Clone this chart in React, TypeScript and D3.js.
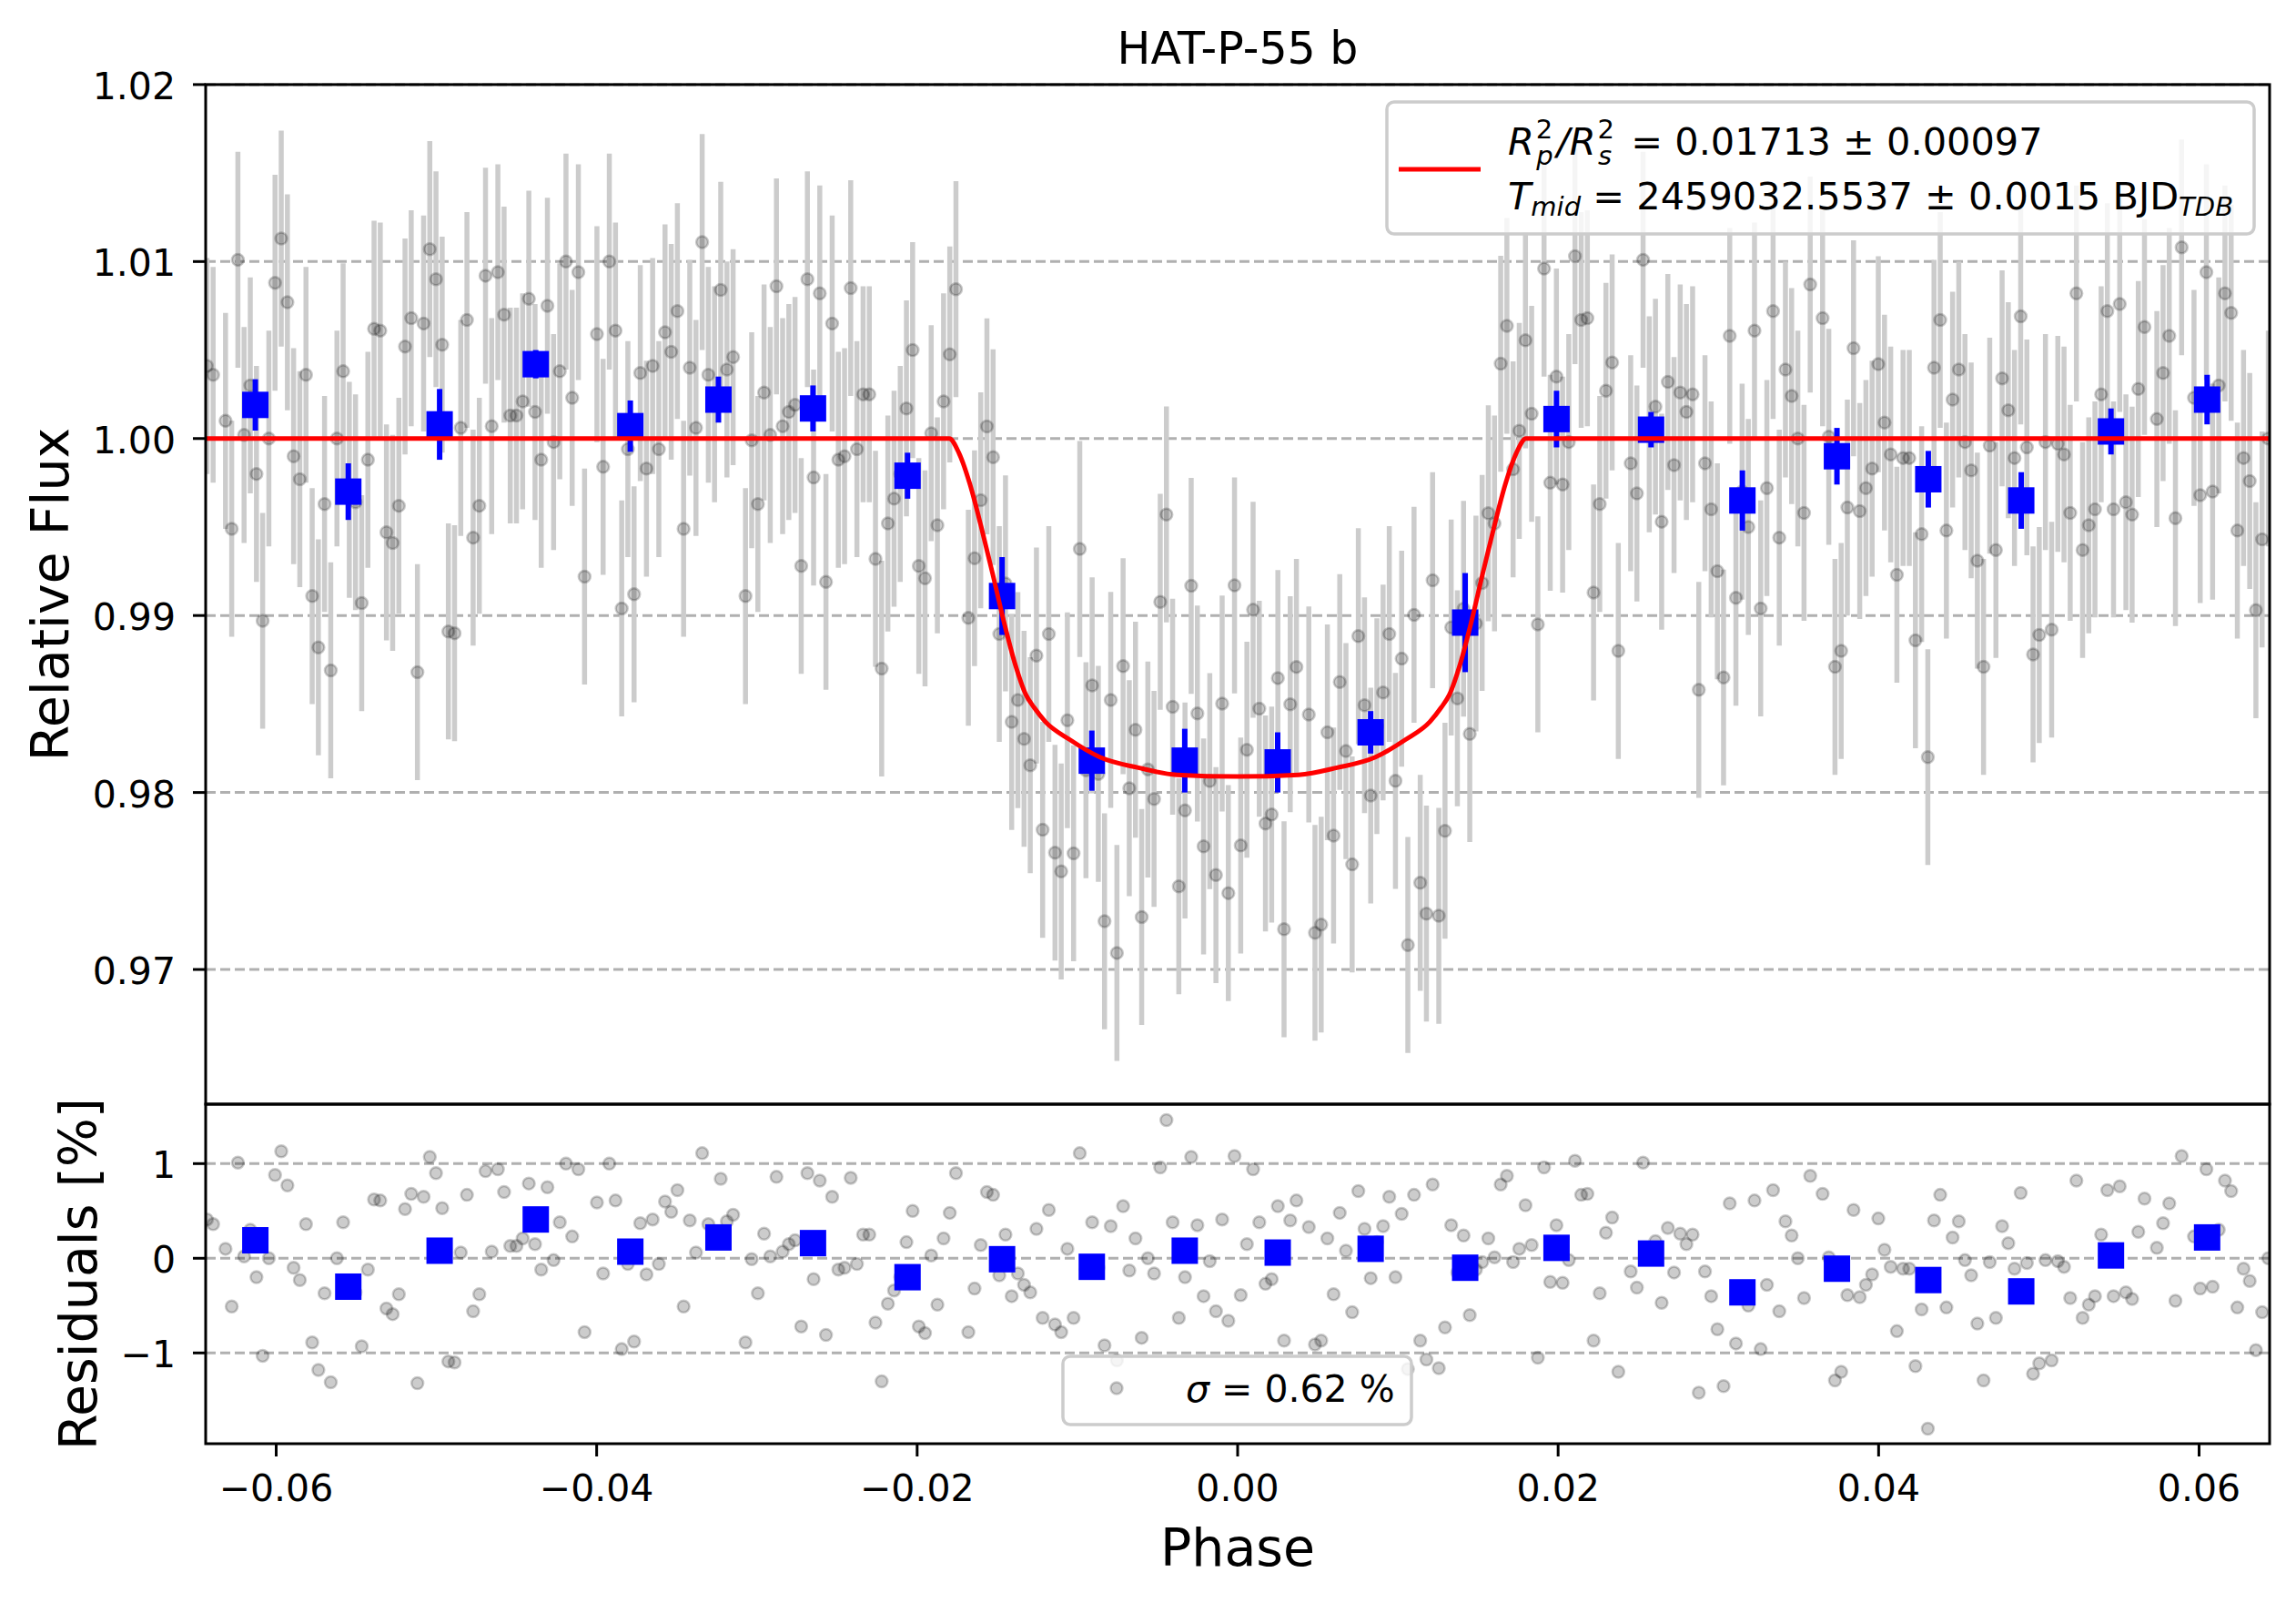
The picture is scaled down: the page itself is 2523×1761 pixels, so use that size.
import React from "react";
import * as d3 from "d3";

// ---- data ----
const title = "HAT-P-55 b";

// individual frames: phase = phaseStart + k * phaseStep, residual in %
const phaseStart = -0.06432;
const phaseStep = 0.0003863;
const residuals: (number | null)[] = [
  0.41, 0.36, null, 0.10, -0.51, 1.01, 0.02, 0.30, -0.20, -1.03,
  0.00, 0.88, 1.13, 0.77, -0.10, -0.23, 0.36, -0.89, -1.18, -0.37,
  -1.31, 0.00, 0.38, -0.29, -0.36, -0.93, -0.12, 0.62, 0.61, -0.53,
  -0.59, -0.38, 0.52, 0.68, -1.32, 0.65, 1.07, 0.90, 0.53, -1.09,
  -1.10, 0.06, 0.67, -0.56, -0.38, 0.92, 0.07, 0.94, 0.70, 0.13,
  0.13, 0.21, 0.79, 0.15, -0.12, 0.75, -0.02, 0.38, 1.00, 0.23,
  0.94, -0.78, null, 0.59, -0.16, 1.00, 0.61, -0.96, -0.06, -0.88,
  0.37, -0.17, 0.41, -0.06, 0.60, 0.49, 0.72, -0.51, 0.40, 0.06,
  1.11, 0.36, 0.25, 0.84, 0.39, 0.46, null, -0.89, -0.01, -0.37,
  0.26, 0.02, 0.86, 0.07, 0.15, 0.19, -0.72, 0.90, -0.22, 0.82,
  -0.81, 0.65, -0.12, -0.10, 0.85, -0.06, 0.25, 0.25, -0.68, -1.30,
  -0.48, -0.34, -0.20, 0.17, 0.50, -0.72, -0.79, 0.03, -0.49, 0.21,
  0.48, 0.90, null, -0.78, -0.32, 0.14, 0.70, 0.67, -0.18, 0.25,
  -0.40, -0.16, -0.28, -0.36, 0.31, -0.63, 0.51, -0.70, -0.78, 0.10,
  -0.63, 1.11, -0.12, 0.38, -0.10, -0.92, 0.34, -1.08, 0.55, -0.13,
  0.21, -0.84, 0.00, -0.16, 0.96, 1.46, 0.38, -0.63, -0.20, 1.07,
  0.35, -0.40, -0.03, -0.56, 0.41, -0.66, 1.08, -0.39, 0.15, 0.94,
  0.38, -0.27, -0.22, 0.55, -0.87, 0.40, 0.61, null, 0.33, -0.91,
  -0.87, 0.21, -0.38, 0.48, 0.08, -0.57, 0.71, 0.31, -0.21, 0.17,
  0.34, 0.65, -0.20, 0.47, -1.17, 0.67, -0.87, -1.07, 0.78, -1.16,
  -0.73, 0.35, -0.15, 0.24, -0.60, -0.12, -0.04, 0.21, 0.01, 0.78,
  0.87, -0.04, 0.10, 0.56, 0.14, -1.05, 0.96, -0.25, 0.35, -0.26,
  -0.02, 1.03, 0.67, 0.68, -0.87, -0.37, 0.27, 0.43, -1.20, null,
  -0.14, -0.31, 1.01, 0.08, 0.18, -0.47, 0.32, -0.15, 0.26, 0.15,
  0.25, -1.42, -0.14, -0.40, -0.75, -1.35, 0.58, -0.90, -0.30, -0.50,
  0.61, -0.96, -0.28, 0.72, -0.56, 0.39, 0.24, 0.00, -0.42, 0.87,
  null, 0.68, 0.01, -1.29, -1.20, -0.39, 0.51, -0.41, -0.28, -0.17,
  0.42, 0.09, -0.09, -0.77, -0.11, -0.11, -1.14, -0.54, -1.80, 0.40,
  0.67, -0.52, 0.22, 0.39, -0.02, -0.18, -0.69, -1.29, -0.04, -0.63,
  0.34, 0.16, -0.11, 0.69, -0.05, -1.22, -1.11, -0.02, -1.08, -0.03,
  -0.09, -0.42, 0.82, -0.63, -0.49, -0.40, 0.25, 0.72, -0.40, 0.76,
  -0.36, -0.43, 0.28, 0.63, null, 0.11, 0.37, 0.58, -0.45, 1.08,
  null, 0.23, -0.32, 0.94, -0.30, 0.30, 0.82, 0.71, -0.52, -0.11,
  -0.24, -0.97, -0.57, 0.00,
];
const fluxErr = 0.0061;

// transit model (red curve), read at knots
const modelPhase = [
  -0.0644, -0.0180, -0.0174, -0.0167, -0.0160, -0.0153, -0.0146, -0.0139, -0.0132, -0.0127,
  -0.0120, -0.0105, -0.0086, -0.0062, -0.0038, 0.0, 0.0038, 0.0062, 0.0086, 0.0105,
  0.0120, 0.0127, 0.0132, 0.0139, 0.0146, 0.0153, 0.0160, 0.0167, 0.0174, 0.0180, 0.0644,
];
const modelFlux = [
  1.0, 1.0, 0.9992, 0.9974, 0.995, 0.9924, 0.9897, 0.9873, 0.9855, 0.9848,
  0.984, 0.983, 0.982, 0.9814, 0.981, 0.9809, 0.981, 0.9814, 0.982, 0.983,
  0.984, 0.9848, 0.9855, 0.9873, 0.9897, 0.9924, 0.995, 0.9974, 0.9992, 1.0, 1.0,
];

// binned points (blue squares)
const binPhase = [
  -0.0613, -0.0555, -0.0498, -0.0438, -0.0379, -0.0324, -0.0265, -0.0206, -0.0147, -0.0091, -0.0033,
  0.0025, 0.0083, 0.0142, 0.0199, 0.0258, 0.0315, 0.0374, 0.0431, 0.0489, 0.0545, 0.0605,
];
const binFlux = [
  1.0019, 0.997, 1.0008, 1.0042, 1.0007, 1.0022, 1.0017, 0.9979, 0.9911, 0.9818, 0.9818,
  0.9817, 0.9834, 0.9896, 1.0011, 1.0005, 0.9965, 0.999, 0.9977, 0.9965, 1.0004, 1.0022,
];
const binErr = [
  0.00145, 0.0016, 0.002, 0.0008, 0.00145, 0.0013, 0.0013, 0.0013, 0.0022, 0.0017, 0.0018,
  0.0017, 0.0012, 0.0028, 0.0016, 0.001, 0.0017, 0.0016, 0.0016, 0.0016, 0.0013, 0.0014,
];
const binResidual = [
  0.19, -0.3, 0.08, 0.41, 0.07, 0.22, 0.16, -0.2, -0.01, -0.09, 0.08,
  0.06, 0.1, -0.1, 0.11, 0.05, -0.36, -0.11, -0.23, -0.35, 0.03, 0.22,
];

const fluxTicks = [0.97, 0.98, 0.99, 1.0, 1.01, 1.02];
const residTicks = [-1, 0, 1];
const phaseTicks = [-0.06, -0.04, -0.02, 0.0, 0.02, 0.04, 0.06];
const sigmaValue = "0.62";

// ---- layout ----
const W = 2523;
const H = 1761;
const left = 226;
const right = 2494;
const mainTop = 92.9;
const split = 1213;
const bottom = 1586;
const font = "DejaVu Sans";
const fsTick = 41;
const fsLegend = 41.5;

const minus = (s: string) => s.replace("-", "\u2212");

export default function App() {
  const x = d3.scaleLinear().domain([-0.0644, 0.0644]).range([left, right]);
  const yMain = d3.scaleLinear().domain([0.96239, 1.02]).range([split, mainTop]);
  const yRes = d3.scaleLinear().domain([-1.959, 1.628]).range([bottom, split]);
  const model = d3.scaleLinear().domain(modelPhase).range(modelFlux);

  const points = residuals
    .map((r, k) => {
      if (r === null) return null;
      const phase = phaseStart + k * phaseStep;
      return { phase, res: r, flux: model(phase) + r / 100 };
    })
    .filter((p): p is { phase: number; res: number; flux: number } => p !== null);

  const modelLine = d3
    .line<number>()
    .x((_, i) => x(modelPhase[i]))
    .y((d) => yMain(d))
    .curve(d3.curveMonotoneX);

  const fmt2 = d3.format(".2f");
  const sq = 29;

  const dot = (cx: number, cy: number, key: string | number) => (
    <circle
      key={key}
      cx={cx}
      cy={cy}
      r={6.5}
      fill="black"
      fillOpacity={0.2}
      stroke="black"
      strokeOpacity={0.2}
      strokeWidth={2.5}
    />
  );

  return (
    <svg
      width={W}
      height={H}
      viewBox={`0 0 ${W} ${H}`}
      style={{ position: "absolute", left: 0, top: 0, background: "white" }}
      fontFamily={font}
    >
      <defs>
        <clipPath id="clipMain">
          <rect x={left} y={mainTop} width={right - left} height={split - mainTop} />
        </clipPath>
        <clipPath id="clipRes">
          <rect x={left} y={split} width={right - left} height={bottom - split} />
        </clipPath>
      </defs>
      <rect width={W} height={H} fill="white" />

      {/* title */}
      <text x={(left + right) / 2} y={70} fontSize={49} textAnchor="middle">
        {title}
      </text>

      {/* ---- main panel ---- */}
      <g>
        {fluxTicks.map((t) => (
          <line
            key={t}
            x1={left}
            x2={right}
            y1={yMain(t)}
            y2={yMain(t)}
            stroke="#b0b0b0"
            strokeWidth={3}
            strokeDasharray="11,5"
          />
        ))}
        <g clipPath="url(#clipMain)">
          {points.map((p, i) => (
            <line
              key={i}
              x1={x(p.phase)}
              x2={x(p.phase)}
              y1={yMain(p.flux - fluxErr)}
              y2={yMain(p.flux + fluxErr)}
              stroke="#cccccc"
              strokeWidth={5.5}
            />
          ))}
          {points.map((p, i) => dot(x(p.phase), yMain(p.flux), i))}
          {binPhase.map((ph, i) => (
            <g key={i}>
              <line
                x1={x(ph)}
                x2={x(ph)}
                y1={yMain(binFlux[i] - binErr[i])}
                y2={yMain(binFlux[i] + binErr[i])}
                stroke="blue"
                strokeWidth={6}
              />
              <rect x={x(ph) - sq / 2} y={yMain(binFlux[i]) - sq / 2} width={sq} height={sq} fill="blue" />
            </g>
          ))}
          <path d={modelLine(modelFlux) || ""} fill="none" stroke="red" strokeWidth={5} />
        </g>
        {fluxTicks.map((t) => (
          <g key={t}>
            <line x1={left - 14} x2={left} y1={yMain(t)} y2={yMain(t)} stroke="black" strokeWidth={3} />
            <text x={193} y={yMain(t) + 16} fontSize={fsTick} textAnchor="end">
              {fmt2(t)}
            </text>
          </g>
        ))}
        <rect x={left} y={mainTop} width={right - left} height={split - mainTop} fill="none" stroke="black" strokeWidth={3} />
        <text
          transform={`translate(75,${(mainTop + split) / 2}) rotate(-90)`}
          fontSize={57}
          textAnchor="middle"
        >
          Relative Flux
        </text>

        {/* legend */}
        <rect x={1524} y={112} width={953} height={145} rx={8} fill="white" fillOpacity={0.8} stroke="#cccccc" strokeWidth={3.5} />
        <line x1={1537} x2={1627} y1={186} y2={186} stroke="red" strokeWidth={5} />
        <text x={1657} y={170} fontSize={fsLegend} style={{ whiteSpace: "pre" }}>
          <tspan fontStyle="italic">R</tspan>
          <tspan fontSize={29} dx={2} dy={-18}>2</tspan>
          <tspan fontSize={29} fontStyle="italic" dx={-18} dy={29}>p</tspan>
          <tspan fontStyle="italic" dx={4} dy={-11}>/R</tspan>
          <tspan fontSize={29} dx={2} dy={-18}>2</tspan>
          <tspan fontSize={29} fontStyle="italic" dx={-18} dy={29}>s</tspan>
          <tspan dx={8} dy={-11}>{" = 0.01713 \u00b1 0.00097"}</tspan>
        </text>
        <text x={1657} y={230} fontSize={fsLegend} style={{ whiteSpace: "pre" }}>
          <tspan fontStyle="italic">T</tspan>
          <tspan fontSize={29} fontStyle="italic" dy={7}>mid</tspan>
          <tspan dy={-7}>{" = 2459032.5537 \u00b1 0.0015 BJD"}</tspan>
          <tspan fontSize={29} fontStyle="italic" dy={7}>TDB</tspan>
        </text>
      </g>

      {/* ---- residual panel ---- */}
      <g>
        {residTicks.map((t) => (
          <line
            key={t}
            x1={left}
            x2={right}
            y1={yRes(t)}
            y2={yRes(t)}
            stroke="#b0b0b0"
            strokeWidth={3}
            strokeDasharray="11,5"
          />
        ))}
        <g clipPath="url(#clipRes)">
          {points.map((p, i) => dot(x(p.phase), yRes(p.res), i))}
          {binPhase.map((ph, i) => (
            <rect key={i} x={x(ph) - sq / 2} y={yRes(binResidual[i]) - sq / 2} width={sq} height={sq} fill="blue" />
          ))}
        </g>
        {residTicks.map((t) => (
          <g key={t}>
            <line x1={left - 14} x2={left} y1={yRes(t)} y2={yRes(t)} stroke="black" strokeWidth={3} />
            <text x={193} y={yRes(t) + 16} fontSize={fsTick} textAnchor="end">
              {minus(String(t))}
            </text>
          </g>
        ))}
        {phaseTicks.map((t) => (
          <g key={t}>
            <line x1={x(t)} x2={x(t)} y1={bottom} y2={bottom + 14} stroke="black" strokeWidth={3} />
            <text x={x(t)} y={1649} fontSize={fsTick} textAnchor="middle">
              {minus(fmt2(t))}
            </text>
          </g>
        ))}
        <rect x={left} y={split} width={right - left} height={bottom - split} fill="none" stroke="black" strokeWidth={3} />
        <text
          transform={`translate(106,${(split + bottom) / 2}) rotate(-90)`}
          fontSize={57}
          textAnchor="middle"
        >
          Residuals [%]
        </text>
        <text x={(left + right) / 2} y={1720} fontSize={57} textAnchor="middle">
          Phase
        </text>

        {/* sigma legend */}
        <rect x={1168} y={1490} width={383} height={75} rx={8} fill="white" fillOpacity={0.8} stroke="#cccccc" strokeWidth={3.5} />
        {dot(1227, 1525, "leg")}
        <text x={1303} y={1540} fontSize={41} style={{ whiteSpace: "pre" }}>
          <tspan fontStyle="italic">{"\u03c3"}</tspan>
          <tspan>{` = ${sigmaValue} %`}</tspan>
        </text>
      </g>
    </svg>
  );
}
